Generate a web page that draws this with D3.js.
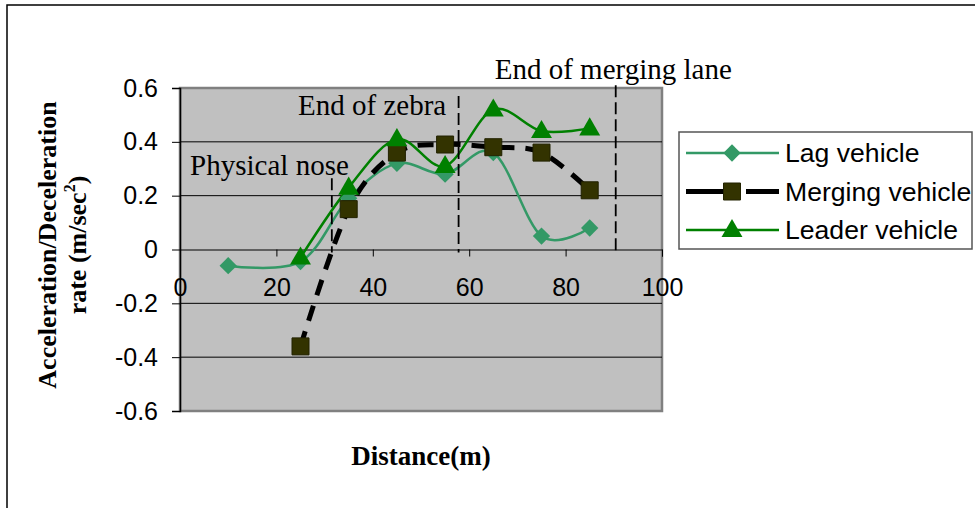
<!DOCTYPE html>
<html>
<head>
<meta charset="utf-8">
<script src="https://cdn.jsdelivr.net/npm/d3@7"></script>
<style>
  html, body { margin: 0; padding: 0; background: #fff; }
  svg { display: block; }
</style>
</head>
<body>
<svg id="chart" width="975" height="508"></svg>
<script>
// Distance along the merging section (m)
const lagDistance = [10, 25, 35, 45, 55, 65, 75, 85];
const lagValues = [-0.06, -0.045, 0.19, 0.32, 0.28, 0.36, 0.05, 0.08];

const mergingDistance = [25, 35, 45, 55, 65, 75, 85];
const mergingValues = [-0.36, 0.15, 0.36, 0.39, 0.38, 0.36, 0.22];

const leaderDistance = [25, 35, 45, 55, 65, 75, 85];
const leaderValues = [-0.03, 0.23, 0.41, 0.31, 0.52, 0.44, 0.45];

const seriesNames = ["Lag vehicle", "Merging vehicle", "Leader vehicle"];

const xTicks = [0, 20, 40, 60, 80, 100];
const yTicks = [-0.6, -0.4, -0.2, 0, 0.2, 0.4, 0.6];

// Reference positions along the road and the level each marker line reaches
const landmarkNames = ["Physical nose", "End of zebra", "End of merging lane"];
const landmarkDistance = [31.5, 57.8, 90.4];
const landmarkTop = [0.265, 0.57, 0.61];
// Label anchor (distance, level) for each landmark name
const landmarkLabelX = [2.1, 24.5, 65.3];
const landmarkLabelY = [0.278, 0.5, 0.632];

const svg = d3.select("#chart");

const plot = { left: 180, right: 662, top: 88, bottom: 411 };
const x = d3.scaleLinear().domain([0, 100]).range([plot.left, plot.right]);
const y = d3.scaleLinear().domain([-0.6, 0.6]).range([plot.bottom, plot.top]);

const serif = "'Liberation Serif', 'Times New Roman', serif";
const sans = "'Liberation Sans', Arial, sans-serif";

// Outer frame (left and top edges)
svg.append("path")
  .attr("d", "M7,508 L7,5 L975,5")
  .attr("fill", "none").attr("stroke", "#000").attr("stroke-width", 1.5);

// Plot area
svg.append("rect")
  .attr("x", plot.left).attr("y", plot.top)
  .attr("width", plot.right - plot.left).attr("height", plot.bottom - plot.top)
  .attr("fill", "#c0c0c0").attr("stroke", "#808080").attr("stroke-width", 2.5);

// Horizontal gridlines
svg.append("g").selectAll("line")
  .data(yTicks.filter(d => d !== 0 && Math.abs(d) < 0.6))
  .join("line")
  .attr("x1", plot.left).attr("x2", plot.right)
  .attr("y1", d => y(d)).attr("y2", d => y(d))
  .attr("stroke", "#000").attr("stroke-width", 1);

// Y axis
const yAxis = svg.append("g")
  .attr("transform", `translate(${plot.left},0)`)
  .call(d3.axisLeft(y).tickValues(yTicks).tickSize(8).tickPadding(14)
    .tickFormat(d => String(+d.toFixed(1))));
yAxis.select(".domain").attr("stroke", "#000").attr("stroke-width", 1.5);
yAxis.selectAll(".tick line").attr("stroke", "#000").attr("stroke-width", 1);
yAxis.selectAll(".tick text")
  .attr("font-family", sans).attr("font-size", 25).attr("fill", "#000");

// X axis along the zero line
const xAxis = svg.append("g")
  .attr("transform", `translate(0,${y(0)})`)
  .call(d3.axisBottom(x).tickValues(xTicks).tickSize(7).tickPadding(22)
    .tickFormat(d3.format("d")));
xAxis.select(".domain").attr("stroke", "#000").attr("stroke-width", 1);
xAxis.selectAll(".tick line").attr("stroke", "#000").attr("stroke-width", 1);
xAxis.selectAll(".tick text")
  .attr("font-family", sans).attr("font-size", 25).attr("fill", "#000");

// Series
const smooth = d3.line().curve(d3.curveCatmullRom.alpha(0))
  .x(d => x(d[0])).y(d => y(d[1]));

const lagPts = d3.zip(lagDistance, lagValues);
const mergingPts = d3.zip(mergingDistance, mergingValues);
const leaderPts = d3.zip(leaderDistance, leaderValues);

const lagColor = "#339966";
const mergingColor = "#000";
const mergingFill = "#333300";
const leaderColor = "#008000";

svg.append("path").datum(lagPts).attr("d", smooth)
  .attr("fill", "none").attr("stroke", lagColor).attr("stroke-width", 2.5);
svg.append("path").datum(mergingPts).attr("d", smooth)
  .attr("fill", "none").attr("stroke", mergingColor).attr("stroke-width", 5)
  .attr("stroke-dasharray", "16,11");
svg.append("path").datum(leaderPts).attr("d", smooth)
  .attr("fill", "none").attr("stroke", leaderColor).attr("stroke-width", 2.5);

const diamond = d3.symbol(d3.symbolSquare, 150)();
const square = d3.symbol(d3.symbolSquare, 289)();
const triangle = d3.symbol(d3.symbolTriangle, 190)();

svg.append("g").selectAll("path").data(lagPts).join("path")
  .attr("d", diamond)
  .attr("transform", d => `translate(${x(d[0])},${y(d[1])}) rotate(45)`)
  .attr("fill", lagColor);
svg.append("g").selectAll("path").data(mergingPts).join("path")
  .attr("d", square)
  .attr("transform", d => `translate(${x(d[0])},${y(d[1])})`)
  .attr("fill", mergingFill).attr("stroke", "#222200").attr("stroke-width", 1);
svg.append("g").selectAll("path").data(leaderPts).join("path")
  .attr("d", triangle)
  .attr("transform", d => `translate(${x(d[0])},${y(d[1]) + 1})`)
  .attr("fill", leaderColor);

// Landmark marker lines and their names
svg.append("g").selectAll("line").data(landmarkDistance).join("line")
  .attr("x1", d => x(d)).attr("x2", d => x(d))
  .attr("y1", (d, i) => y(landmarkTop[i])).attr("y2", y(0) + 3)
  .attr("stroke", "#000").attr("stroke-width", 1.8)
  .attr("stroke-dasharray", "12,5");

svg.append("g").selectAll("text").data(landmarkNames).join("text")
  .attr("x", (d, i) => x(landmarkLabelX[i]))
  .attr("y", (d, i) => y(landmarkLabelY[i]))
  .attr("font-family", serif).attr("font-size", 29).attr("fill", "#000")
  .text(d => d);

// Axis titles
svg.append("text")
  .attr("x", (plot.left + plot.right) / 2).attr("y", 465)
  .attr("text-anchor", "middle")
  .attr("font-family", serif).attr("font-size", 27).attr("font-weight", "bold")
  .text("Distance(m)");

const yTitle = svg.append("g").attr("transform", "translate(56,245) rotate(-90)");
yTitle.append("text")
  .attr("text-anchor", "middle")
  .attr("font-family", serif).attr("font-size", 26).attr("font-weight", "bold")
  .text("Acceleration/Deceleration");
const yTitle2 = yTitle.append("text")
  .attr("y", 30)
  .attr("text-anchor", "middle")
  .attr("font-family", serif).attr("font-size", 26).attr("font-weight", "bold");
yTitle2.append("tspan").text("rate (m/sec");
yTitle2.append("tspan").attr("font-size", 16).attr("dy", -11).text("2");
yTitle2.append("tspan").attr("dy", 11).text(")");

// Legend
const legend = svg.append("g");
legend.append("rect")
  .attr("x", 679).attr("y", 132).attr("width", 293).attr("height", 117)
  .attr("fill", "#fff").attr("stroke", "#555").attr("stroke-width", 1.5);

const legendRowY = d3.scalePoint().domain(seriesNames).range([153, 230]);
const legendStyles = [
  { color: lagColor, width: 2.5, dash: null, mark: diamond, rot: 45, fill: lagColor, stroke: "none", dy: 0 },
  { color: mergingColor, width: 5, dash: "40,20", mark: square, rot: 0, fill: mergingFill, stroke: "#222200", dy: 0 },
  { color: leaderColor, width: 2.5, dash: null, mark: triangle, rot: 0, fill: leaderColor, stroke: "none", dy: 1 }
];

seriesNames.forEach((name, i) => {
  const s = legendStyles[i];
  const ly = legendRowY(name);
  legend.append("line")
    .attr("x1", 686).attr("x2", 779).attr("y1", ly).attr("y2", ly)
    .attr("stroke", s.color).attr("stroke-width", s.width)
    .attr("stroke-dasharray", s.dash);
  legend.append("path")
    .attr("d", s.mark)
    .attr("transform", `translate(732,${ly + s.dy}) rotate(${s.rot})`)
    .attr("fill", s.fill).attr("stroke", s.stroke);
  legend.append("text")
    .attr("x", 785).attr("y", ly + 9)
    .attr("font-family", sans).attr("font-size", 26.6).attr("fill", "#000")
    .text(name);
});
</script>
</body>
</html>
